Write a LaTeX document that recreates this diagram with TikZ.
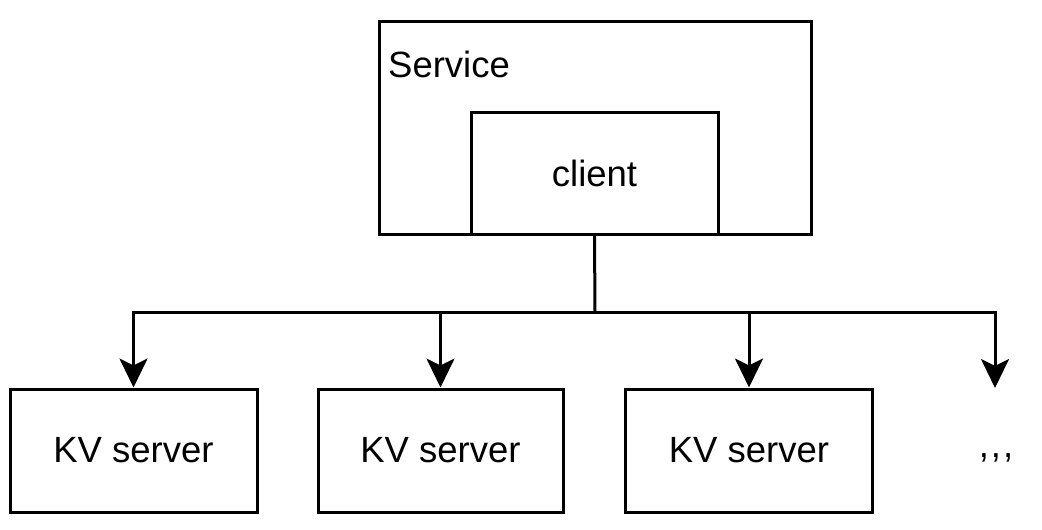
\documentclass[tikz,border=0pt]{standalone}
\usepackage{fontspec}
\setmainfont{Liberation Sans}
\usetikzlibrary{arrows.meta}
\begin{document}
\begin{tikzpicture}[x=1pt,y=-1pt,
  box/.style={draw=black,line width=3pt,fill=white,inner sep=0pt},
  lbl/.style={font=\fontsize{36.5}{42}\selectfont,inner sep=0pt},
  conn/.style={line width=3pt,-{Stealth[length=29pt,width=28pt,inset=7pt]}}]
\useasboundingbox (0,0) rectangle (1042,530);
\node[box,minimum width=432pt,minimum height=213pt] (service) at (595,127.5) {};
\node[lbl,anchor=base west] (servicelbl) at (388,77) {Service};
\node[box,minimum width=247pt,minimum height=122pt,lbl] (client) at (594.5,173) {client};
\node[box,minimum width=247pt,minimum height=123pt,lbl] (kv1) at (133.5,450.5) {KV server};
\node[box,minimum width=245pt,minimum height=123pt,lbl] (kv2) at (440.5,450.5) {KV server};
\node[box,minimum width=247pt,minimum height=123pt,lbl] (kv3) at (749,450.5) {KV server};
\coordinate (j) at (595,312);
\coordinate (more) at (995,388);
\node[lbl] (dots) at (996,458) {,\kern2pt,\kern2pt,};
\draw[line width=3pt] (client.south) -- (j);
\draw[conn] (j) -| (kv1.north);
\draw[conn] (j) -| (kv2.north);
\draw[conn] (j) -| (kv3.north);
\draw[conn] (j) -| (more);
\end{tikzpicture}
\end{document}
